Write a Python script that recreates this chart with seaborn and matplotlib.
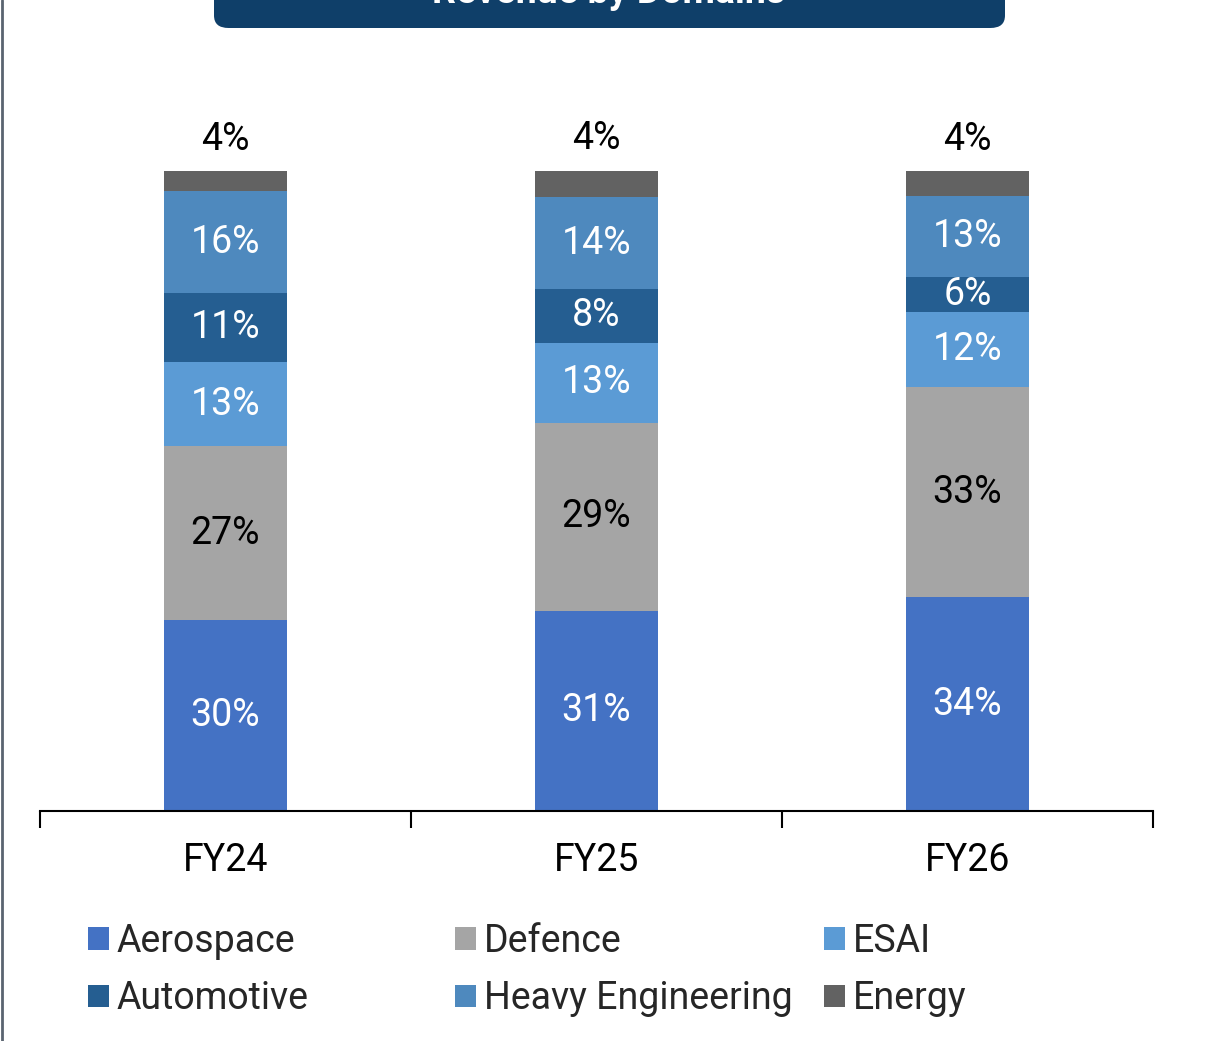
import matplotlib
matplotlib.use("Agg")
import matplotlib.pyplot as plt
import seaborn as sns
import numpy as np
from matplotlib.patches import FancyBboxPatch, Patch
from matplotlib.lines import Line2D

years = ["FY24", "FY25", "FY26"]
segments = ["Aerospace", "Defence", "ESAI", "Automotive", "Heavy Engineering", "Energy"]
aerospace = [29.8, 31.3, 33.4]
defence = [27.2, 29.4, 32.8]
esai = [13.1, 12.5, 11.7]
automotive = [10.8, 8.3, 5.5]
heavy_eng = [15.9, 14.4, 12.7]
energy = [3.3, 4.2, 3.9]

aerospace_lbl = ["30%", "31%", "34%"]
defence_lbl = ["27%", "29%", "33%"]
esai_lbl = ["13%", "13%", "12%"]
automotive_lbl = ["11%", "8%", "6%"]
heavy_eng_lbl = ["16%", "14%", "13%"]
energy_lbl = ["4%", "4%", "4%"]

colors = ["#4472C4", "#A5A5A5", "#5B9BD5", "#255E91", "#4E89BE", "#626262"]
text_colors = ["white", "black", "white", "white", "white", None]

sns.set_style("white")
plt.rcParams["font.family"] = ["Roboto", "DejaVu Sans"]

fig = plt.figure(figsize=(12.16, 10.41), dpi=100)
ax = fig.add_axes([40 / 1216, 230 / 1041, 1113 / 1216, 640 / 1041])

values = [aerospace, defence, esai, automotive, heavy_eng, energy]
labels = [aerospace_lbl, defence_lbl, esai_lbl, automotive_lbl, heavy_eng_lbl, energy_lbl]

bottom = np.zeros(len(years))
for name, vals, col, lbls, tc in zip(segments, values, colors, labels, text_colors):
    sns.barplot(x=years, y=vals, bottom=bottom, color=col, width=0.332,
                errorbar=None, ax=ax, linewidth=0, saturation=1)
    for i, (v, b, t) in enumerate(zip(vals, bottom, lbls)):
        if tc is None:
            ax.text(i, b + v + 4.9, t, ha="center", va="center", fontsize=27,
                    color="black", clip_on=False)
        else:
            ax.text(i, b + v / 2, t, ha="center", va="center", fontsize=27, color=tc)
    bottom = bottom + np.array(vals)

ax.set_xlim(-0.5, 2.5)
ax.set_ylim(0, 100)
ax.set_yticks([])
ax.set_xlabel("")
ax.set_ylabel("")
for s in ["top", "left", "right"]:
    ax.spines[s].set_visible(False)
ax.spines["bottom"].set_color("black")
ax.spines["bottom"].set_linewidth(1.5)
ax.set_xticks([-0.5, 0.5, 1.5, 2.5], minor=True)
ax.tick_params(axis="x", which="minor", bottom=True, length=12, width=1.5,
               color="black", direction="out")
ax.tick_params(axis="x", which="major", length=0, labelsize=27, pad=22,
               labelcolor="black")

# legend: three single-column legends at fixed x positions
handles = [Patch(facecolor=c, edgecolor="none") for c in colors]
col_x = [88, 455, 824]
for k, x in enumerate(col_x):
    idx = [k, k + 3]
    fig.legend([handles[i] for i in idx], [segments[i] for i in idx],
               ncol=1, loc="center left", bbox_to_anchor=(x / 1216, 1 - 970 / 1041),
               frameon=False, fontsize=27, handlelength=0.55, handleheight=0.55,
               handletextpad=0.22, labelspacing=0.55, borderaxespad=0, borderpad=0)

# title box, cut off at the top edge
box = FancyBboxPatch((214 / 1216, 1 - 28 / 1041), (1005 - 214) / 1216, 0.1,
                     boxstyle="round,pad=0,rounding_size=0.012",
                     transform=fig.transFigure, facecolor="#0F3F69",
                     edgecolor="none", clip_on=False)
fig.patches.append(box)
fig.text(609 / 1216, 1 - 3 / 1041, "Revenue by Domains", ha="center", va="baseline",
         fontsize=27, fontweight="bold", color="white")

# left border
fig.add_artist(Line2D([1.5 / 1216, 1.5 / 1216], [0, 1], transform=fig.transFigure,
                      color="#5A6470", linewidth=2))

fig.savefig("out.png", dpi=100)
